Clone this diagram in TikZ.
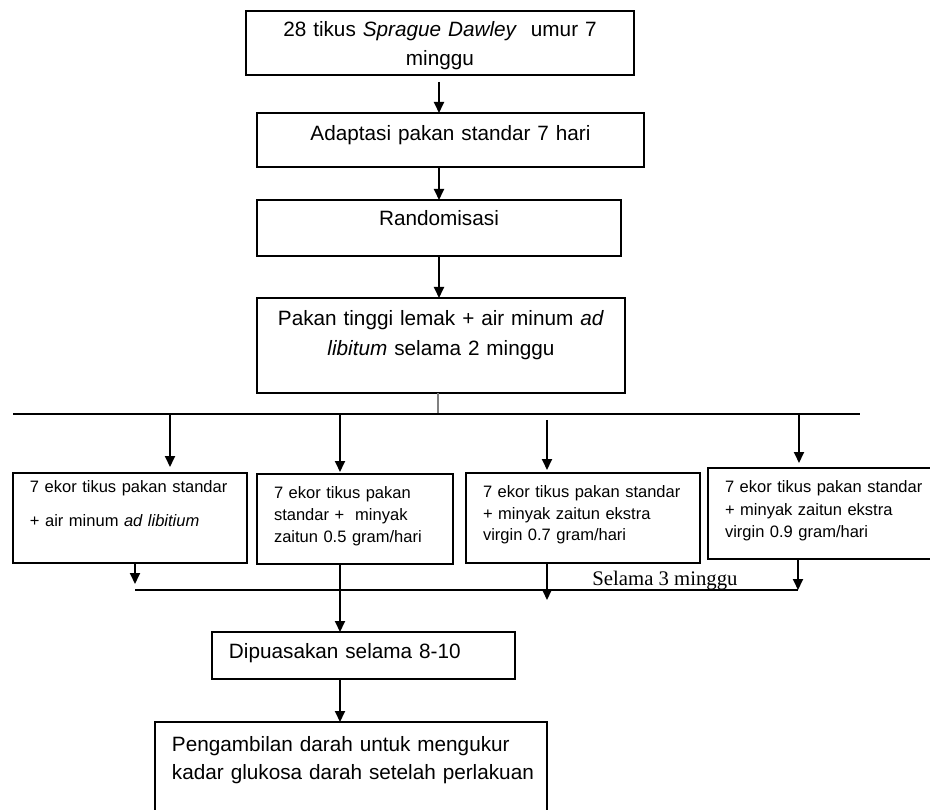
\documentclass[tikz,border=0pt]{standalone}
\usepackage{fontspec}
\setmainfont{Liberation Sans}
\newfontfamily\notefont{Liberation Serif}
\usetikzlibrary{arrows.meta, calc}
\def\lpad{0.34cm}

\begin{document}
\begin{tikzpicture}[
  x=0.02cm, y=-0.02cm,
  >={Triangle[length=2.2mm, width=2mm]},
  box/.style   = {draw, line width=1.1pt, anchor=north west, outer sep=0pt,
                  inner sep=0pt, align=center,
                  font=\fontsize{11.8}{16}\selectfont},
  lbox/.style  = {box, align=left, execute at begin node={\leftskip=\lpad}},
  grp/.style   = {lbox, font=\fontsize{9.4}{12.5}\selectfont},
  arr/.style   = {->, line width=1.1pt},
  busln/.style = {line width=0.9pt},
  stem/.style  = {line width=0.6pt, gray},
  note/.style  = {font=\notefont\fontsize{11.8}{14}\selectfont,
                  inner sep=0pt, anchor=base},
]
\useasboundingbox (0,0) rectangle (930,810);
\clip (0,0) rectangle (930,810);

% ---------- main column ----------
\node[box, text width=7.76cm, text height=0.52cm, text depth=0.76cm]
  (start) at (246,11) {28 tikus \textit{Sprague Dawley}\ \ umur 7\\minggu};
\node[box, text width=7.74cm, text height=0.56cm, text depth=0.52cm]
  (adapt) at (257,113) {Adaptasi pakan standar 7 hari};
\node[box, text width=7.28cm, text height=0.52cm, text depth=0.60cm]
  (rand) at (257,200) {Randomisasi};
\node[box, text width=7.36cm, text height=0.56cm, text depth=1.34cm,
      font=\fontsize{11.8}{17}\selectfont]
  (hfd) at (257,298) {Pakan tinggi lemak + air minum \textit{ad}\\\textit{libitum} selama 2 minggu};

\coordinate (axis) at (439,0);
\foreach \a/\b/\gap in {start/adapt/0.14cm, adapt/rand/0pt, rand/hfd/0pt}{
  \draw[arr, shorten <=\gap] (\a.south -| axis) -- (\b.north -| axis);
}

% ---------- split into four groups ----------
\coordinate (split) at (438,414);
\coordinate (bus-w) at (13,414);
\coordinate (bus-e) at (860,414);
\draw[stem]  (hfd.south -| split) -- (split);
\draw[busln] (bus-w) -- (bus-e);
\foreach \i/\tx/\ty in {1/170/414, 2/340/414, 3/547/420, 4/799/413}{
  \coordinate (tap-\i) at (\tx,\ty);
}

\node[grp, text width=4.68cm, text height=0.40cm, text depth=1.40cm,
      font=\fontsize{9.4}{19.3}\selectfont]
  (grp-1) at (13,473) {7 ekor tikus pakan standar\\+ air minum \textit{ad libitium}};
\node[grp, text width=3.92cm, text height=0.50cm, text depth=1.30cm]
  (grp-2) at (257,474) {7 ekor tikus pakan\\standar +\ \ minyak\\zaitun 0.5 gram/hari};
\node[grp, text width=4.68cm, text height=0.50cm, text depth=1.30cm,
      font=\fontsize{9.4}{12}\selectfont]
  (grp-3) at (466,473) {7 ekor tikus pakan standar\\+ minyak zaitun ekstra\\virgin 0.7 gram/hari};
\node[grp, text width=4.56cm, text height=0.50cm, text depth=1.32cm,
      font=\fontsize{9.4}{12.8}\selectfont]
  (grp-4) at (708,468) {7 ekor tikus pakan standar\\+ minyak zaitun ekstra\\virgin 0.9 gram/hari};

\foreach \i/\gap in {1/0.12cm, 2/0.04cm, 3/0.06cm, 4/0.10cm}{
  \draw[arr, shorten >=\gap] (tap-\i) -- (tap-\i |- grp-\i.north);
}

% ---------- merge after 3 weeks ----------
\coordinate (join-w) at (135,590);
\coordinate (join-e) at (798,590);
\coordinate (drop-3) at (547,600);
\draw[busln] (join-w) -- (join-e);
\draw[arr, shorten >=0.12cm] (grp-1.south -| join-w) -- (join-w);
\draw[arr] (grp-3.south -| drop-3) -- (drop-3);
\draw[arr] (grp-4.south -| join-e) -- (join-e);
\node[note] (weeks) at (665,586) {Selama 3 minggu};

% ---------- fasting and blood sampling ----------
\node[lbox, text width=6.06cm, text height=0.54cm, text depth=0.40cm]
  (fast) at (212,632) {Dipuasakan selama 8-10};
\node[lbox, text width=7.84cm, text height=0.60cm, text depth=1.46cm,
      font=\fontsize{11.8}{15.4}\selectfont]
  (blood) at (155,722) {Pengambilan darah untuk mengukur\\kadar glukosa darah setelah perlakuan};

\draw[arr] (grp-2.south -| tap-2) -- (fast.north -| tap-2);
\draw[arr] (fast.south -| tap-2) -- (blood.north -| tap-2);

\end{tikzpicture}
\end{document}
